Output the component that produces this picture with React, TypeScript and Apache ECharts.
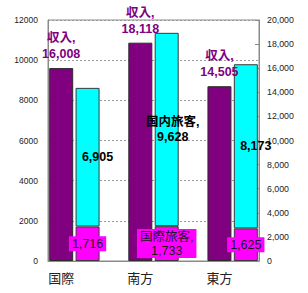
import React, { useEffect, useRef } from "react";
import * as echarts from "echarts";

const categories = ["国際", "南方", "東方"];
const income = [16008, 18118, 14505];
const intlPassengers = [1716, 1733, 1625];
const domesticPassengers = [6905, 9628, 8173];
const leftTicks = { min: 0, max: 12000, interval: 2000 };
const rightTicks = { min: 0, max: 20000, interval: 2000 };
const incomeName = "収入";
const intlName = "国際旅客";
const domesticName = "国内旅客";
const nameShown = [false, true, false];

const FONT = '"Liberation Sans", "Noto Sans CJK JP", sans-serif';
const fmt = (v: number) => v.toLocaleString("en-US");

export default function App() {
  const ref = useRef<HTMLDivElement>(null);
  useEffect(() => {
    if (!ref.current) return;
    const chart = echarts.init(ref.current, null, { renderer: "svg" });
    const n = categories.length;
    // each category uses 3 slots: income bar, passenger stack, gap (no gap after the last)
    const slots: string[] = categories.flatMap((c, i) => (i < n - 1 ? [c, "", ""] : [c, ""]));
    const emptyData = () => slots.map(() => "-" as any);

    const incomeData = emptyData();
    const intlData = emptyData();
    const domData = emptyData();
    categories.forEach((_, i) => {
      incomeData[3 * i] = income[i];
      intlData[3 * i + 1] = {
        value: intlPassengers[i],
        label: {
          formatter: (nameShown[i] ? intlName + ",\n" : "") + fmt(intlPassengers[i]),
        },
      };
      domData[3 * i + 1] = {
        value: domesticPassengers[i],
        label: {
          formatter: (nameShown[i] ? domesticName + ",\n" : "") + fmt(domesticPassengers[i]),
          offset: nameShown[i] ? [6, 0] : [10, 0],
        },
      };
    });

    chart.setOption({
      animation: false,
      textStyle: { fontFamily: FONT },
      grid: {
        left: 48,
        right: 49,
        top: 20,
        bottom: 32,
        show: true,
        borderColor: "#8a8a8a",
        borderWidth: 1,
        backgroundColor: "transparent",
      },
      xAxis: {
        type: "category",
        data: slots,
        axisLine: { show: true, lineStyle: { color: "#8a8a8a" } },
        axisTick: { show: false },
        axisLabel: { interval: 0, fontSize: 13, color: "#222", margin: 11, fontFamily: FONT },
      },
      yAxis: [
        {
          type: "value",
          position: "left",
          min: leftTicks.min,
          max: leftTicks.max,
          interval: leftTicks.interval,
          axisLine: { show: true, lineStyle: { color: "#8a8a8a" } },
          axisTick: { show: false },
          axisLabel: {
            fontSize: 8.5,
            color: "#222",
            margin: 10,
            fontFamily: FONT,
            formatter: (v: number) => String(v),
          },
          splitLine: { show: true, lineStyle: { color: "#9a9a9a", type: [2, 2] } },
        },
        {
          type: "value",
          position: "right",
          min: rightTicks.min,
          max: rightTicks.max,
          interval: rightTicks.interval,
          axisLine: { show: true, lineStyle: { color: "#8a8a8a" } },
          axisTick: { show: true, inside: true, length: 4, lineStyle: { color: "#8a8a8a" } },
          axisLabel: {
            fontSize: 8.8,
            color: "#222",
            margin: 8,
            fontFamily: FONT,
            formatter: (v: number) => fmt(v),
          },
          splitLine: { show: false },
        },
      ],
      series: [
        {
          name: incomeName,
          type: "bar",
          yAxisIndex: 1,
          data: incomeData,
          barWidth: 24,
          barGap: "-100%",
          itemStyle: { color: "#800080", borderColor: "#2a2a2a", borderWidth: 1 },
          label: {
            show: true,
            position: "top",
            distance: 6,
            color: "#800080",
            fontSize: 12.5,
            fontWeight: "bold",
            lineHeight: 16,
            fontFamily: FONT,
            formatter: (p: any) => incomeName + ",\n" + fmt(p.value),
          },
        },
        {
          name: intlName,
          type: "bar",
          yAxisIndex: 0,
          stack: "passengers",
          data: intlData,
          barWidth: 24,
          barGap: "-100%",
          itemStyle: { color: "#FF00FF", borderColor: "#3a3a3a", borderWidth: 1 },
          label: {
            show: true,
            position: "inside",
            color: "#1a1a1a",
            fontSize: 12.5,
            lineHeight: 14,
            fontFamily: FONT,
            backgroundColor: "#FF00FF",
            padding: [1, 3, 0, 3],
          },
        },
        {
          name: domesticName,
          type: "bar",
          yAxisIndex: 0,
          stack: "passengers",
          data: domData,
          barWidth: 24,
          barGap: "-100%",
          itemStyle: { color: "#00FFFF", borderColor: "#3a3a3a", borderWidth: 1 },
          label: {
            show: true,
            position: "inside",
            color: "#000",
            fontSize: 12.5,
            fontWeight: "bold",
            lineHeight: 15,
            fontFamily: FONT,
          },
        },
      ],
    });
    return () => chart.dispose();
  }, []);

  return (
    <div
      ref={ref}
      style={{ position: "fixed", left: 0, top: 0, width: 308, height: 293, background: "#fff" }}
    />
  );
}
